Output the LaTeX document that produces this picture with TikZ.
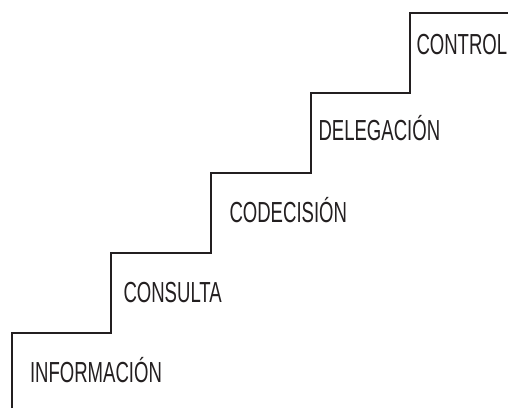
\documentclass[tikz,border=0pt]{standalone}
\usepackage{fontspec}
\newfontfamily\stepfont{Liberation Sans}
\definecolor{ink}{HTML}{231F20}
\tikzset{
  stair/.style={draw=ink,line width=2pt,line join=miter},
  steplabel/.style={anchor=base west,inner sep=0pt,outer sep=0pt,text=ink,xscale=0.64,transform shape,font=\stepfont\fontsize{29}{29}\selectfont}
}
\begin{document}
\begin{tikzpicture}[x=1pt,y=-1pt]
\useasboundingbox (0,0) rectangle (508,408);
\draw[stair] (12,408) |- (111,333) |- (211,253) |- (311,173) |- (410,93) |- (508,13);
\node[steplabel] (informacion) at (30,382) {INFORMACIÓN};
\node[steplabel] (consulta) at (123.5,302) {CONSULTA};
\node[steplabel] (codecision) at (229.5,222) {CODECISIÓN};
\node[steplabel] (delegacion) at (318.5,140) {DELEGACIÓN};
\node[steplabel] (control) at (416.5,54) {CONTROL};
\end{tikzpicture}
\end{document}
